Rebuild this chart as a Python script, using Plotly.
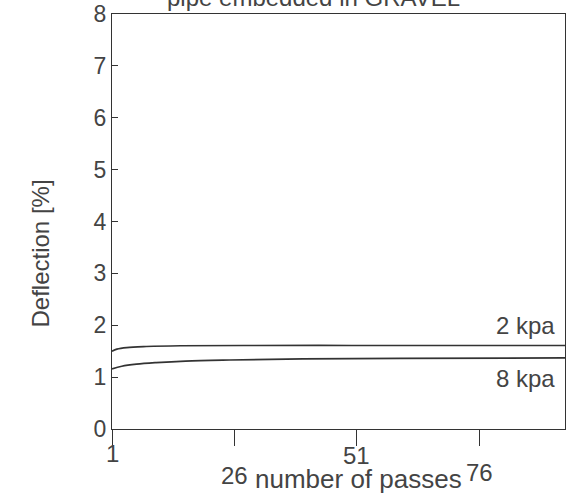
import plotly.graph_objects as go

# Data
passes_2kpa = [1, 2, 4, 8, 15, 30, 50, 70, 93.5]
defl_2kpa = [1.50, 1.54, 1.57, 1.59, 1.605, 1.61, 1.61, 1.61, 1.61]
passes_8kpa = [1, 3, 6, 10, 16, 25, 40, 60, 93.5]
defl_8kpa = [1.16, 1.21, 1.25, 1.28, 1.31, 1.33, 1.35, 1.36, 1.37]
x_tick_vals = [1, 26, 51, 76]
x_tick_text = ["1", "26", "51", "76"]
x_label_drop = [24, 46, 26, 43]  # vertical offset of each tick label (px), style
y_tick_vals = [0, 1, 2, 3, 4, 5, 6, 7, 8]

ink = "#333333"
txt = "#444444"
FONT = "Liberation Sans, Arial, Helvetica, sans-serif"

fig = go.Figure()
fig.add_trace(go.Scatter(x=passes_2kpa, y=defl_2kpa, mode="lines", line=dict(color=ink, width=1.7, shape="spline"), showlegend=False))
fig.add_trace(go.Scatter(x=passes_8kpa, y=defl_8kpa, mode="lines", line=dict(color=ink, width=1.7, shape="spline"), showlegend=False))

ann = []
for v, t, d in zip(x_tick_vals, x_tick_text, x_label_drop):
    ann.append(dict(x=v, y=0, xref="x", yref="paper", text=t, showarrow=False,
                    xanchor="center", yanchor="middle", yshift=-d,
                    font=dict(family=FONT, size=24, color=txt)))
ann.append(dict(x=0.545, y=0, xref="paper", yref="paper", text="number of passes", showarrow=False,
                xanchor="center", yanchor="middle", yshift=-50,
                font=dict(family=FONT, size=26, color=txt)))
ann.append(dict(x=0, y=0.5, xref="paper", yref="paper", text="Deflection [%]", showarrow=False,
                textangle=-90, xanchor="center", yanchor="middle", xshift=-72, yshift=-32,
                font=dict(family=FONT, size=24, color=txt)))
ann.append(dict(x=1, y=2.0, xref="paper", yref="y", text="2 kpa", showarrow=False,
                xanchor="right", yanchor="middle", xshift=-8,
                font=dict(family=FONT, size=24, color=txt)))
ann.append(dict(x=1, y=0.98, xref="paper", yref="y", text="8 kpa", showarrow=False,
                xanchor="right", yanchor="middle", xshift=-8,
                font=dict(family=FONT, size=24, color=txt)))
ann.append(dict(x=0.444, y=1, xref="paper", yref="paper", text="pipe embedded in GRAVEL", showarrow=False,
                xanchor="center", yanchor="bottom", yshift=1,
                font=dict(family=FONT, size=24, color=txt)))

fig.update_layout(
    width=567, height=500,
    margin=dict(l=112, r=1, t=12, b=71),
    paper_bgcolor="white", plot_bgcolor="white",
    annotations=ann,
    xaxis=dict(range=[1, 93.5], tickvals=x_tick_vals, showticklabels=False,
               ticks="outside", ticklen=16, tickcolor=ink, tickwidth=1,
               showline=True, linecolor=ink, linewidth=1.2, mirror=True,
               showgrid=False, zeroline=False),
    yaxis=dict(range=[0, 8], tickvals=y_tick_vals,
               ticks="inside", ticklen=6, tickcolor=ink, tickwidth=1,
               showline=True, linecolor=ink, linewidth=1.2, mirror=True,
               showgrid=False, zeroline=False, ticklabeloverflow="allow",
               tickfont=dict(family=FONT, size=23, color=txt)),
)
fig.write_html("out.html", config={"displayModeBar": False},
               post_script="document.body.style.margin='0px';document.body.style.overflow='hidden';")
